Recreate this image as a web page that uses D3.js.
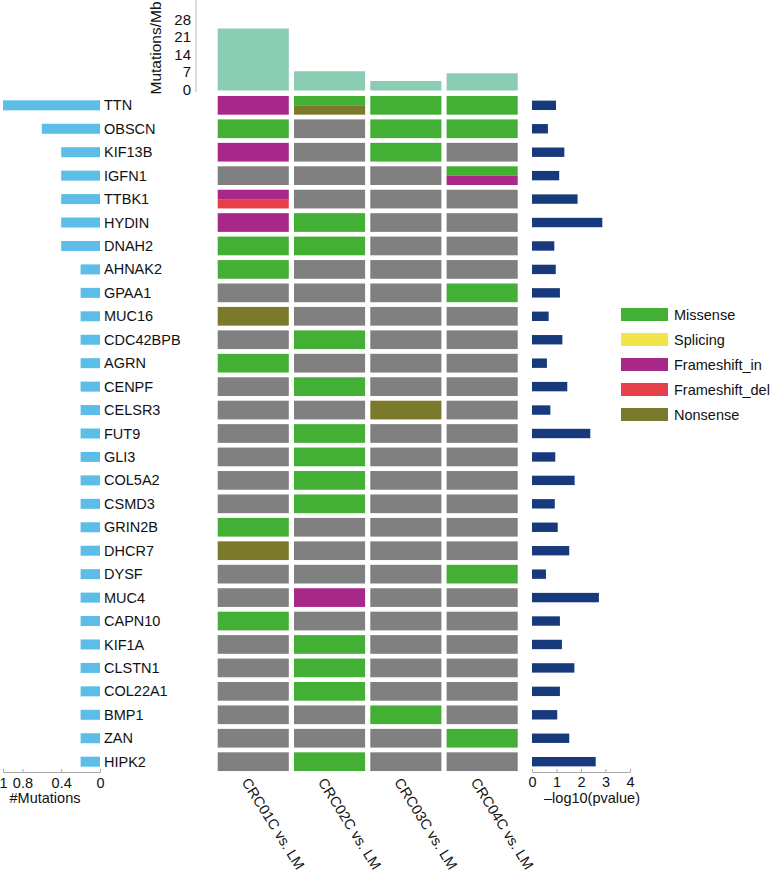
<!DOCTYPE html>
<html><head><meta charset="utf-8">
<script src="https://cdn.jsdelivr.net/npm/d3@7"></script>
<style>
body{margin:0;background:#fff;}
svg{display:block;font-family:"Liberation Sans",Arial,Helvetica,sans-serif;}
</style></head>
<body><svg id="chart" width="774" height="877"></svg>
<script>
const genes = ["TTN","OBSCN","KIF13B","IGFN1","TTBK1","HYDIN","DNAH2","AHNAK2","GPAA1","MUC16","CDC42BPB","AGRN","CENPF","CELSR3","FUT9","GLI3","COL5A2","CSMD3","GRIN2B","DHCR7","DYSF","MUC4","CAPN10","KIF1A","CLSTN1","COL22A1","BMP1","ZAN","HIPK2"];
const samples = ["CRC01C vs. LM","CRC02C vs. LM","CRC03C vs. LM","CRC04C vs. LM"];
const tmb = [24.8, 7.7, 3.8, 6.9];
const tmbTicks = [0, 7, 14, 21, 28];
const mutFreq = [1.0,0.6,0.4,0.4,0.4,0.4,0.4,0.2,0.2,0.2,0.2,0.2,0.2,0.2,0.2,0.2,0.2,0.2,0.2,0.2,0.2,0.2,0.2,0.2,0.2,0.2,0.2,0.2,0.2];
const freqTicks = [1, 0.8, 0.4, 0];
const negLogP = [0.98,0.65,1.32,1.11,1.86,2.87,0.91,0.97,1.14,0.68,1.24,0.61,1.44,0.75,2.38,0.95,1.74,0.93,1.05,1.52,0.57,2.73,1.14,1.22,1.73,1.14,1.03,1.52,2.6];
const pTicks = [0,1,2,3,4];
// mutation calls per sample ("" = none, "+" joins two types)
const crc01 = ["Frameshift_in","Missense","Frameshift_in","","Frameshift_in+Frameshift_del","Frameshift_in","Missense","Missense","","Nonsense","","Missense","","","","","","","Missense","Nonsense","","","Missense","","","","","",""];
const crc02 = ["Missense+Nonsense","","","","","Missense","Missense","","","","Missense","","Missense","","Missense","Missense","Missense","Missense","","","","Frameshift_in","","Missense","Missense","Missense","","","Missense"];
const crc03 = ["Missense","Missense","Missense","","","","","","","","","","","Nonsense","","","","","","","","","","","","","Missense","",""];
const crc04 = ["Missense","Missense","","Missense+Frameshift_in","","","","","Missense","","","","","","","","","","","","Missense","","","","","","","Missense",""];
const mutTypes = ["Missense","Splicing","Frameshift_in","Frameshift_del","Nonsense"];
const mutColors = ["#43b035","#f0e64c","#a8288a","#e5404a","#7b7a2c"];

const calls = [crc01, crc02, crc03, crc04];
const color = d3.scaleOrdinal().domain(mutTypes).range(mutColors);
const svg = d3.select("#chart");
const font = "14.5px";

const x = d3.scaleBand().domain(samples).range([215.1, 520.3]).paddingInner(0.068).paddingOuter(0.034);
const y = d3.scaleBand().domain(genes).range([93.6, 773.4]).paddingInner(0.202).paddingOuter(0.101);

// Heatmap cells
const cells = [];
samples.forEach((s, si) => genes.forEach((g, gi) => cells.push({s, g, v: calls[si][gi]})));
const cg = svg.append("g");
cells.forEach(c => {
  const parts = c.v === "" ? [] : c.v.split("+");
  if (parts.length === 0) {
    cg.append("rect").attr("x", x(c.s)).attr("y", y(c.g)).attr("width", x.bandwidth()).attr("height", y.bandwidth()).attr("fill", "#808080");
  } else {
    const h = y.bandwidth() / parts.length;
    parts.forEach((p, i) => {
      cg.append("rect").attr("x", x(c.s)).attr("y", y(c.g) + i * h).attr("width", x.bandwidth()).attr("height", h).attr("fill", color(p));
    });
  }
});

// Top TMB bars
const yt = d3.scaleLinear().domain([0, 28]).range([90.5, 20.5]);
svg.append("g").selectAll("rect").data(samples).join("rect")
  .attr("x", d => x(d)).attr("width", x.bandwidth())
  .attr("y", (d, i) => yt(tmb[i])).attr("height", (d, i) => yt(0) - yt(tmb[i]))
  .attr("fill", "#8acdb2");
svg.append("line").attr("x1", 196).attr("x2", 196).attr("y1", 0).attr("y2", 92).attr("stroke", "#bbb").attr("stroke-width", 1);
svg.append("g").selectAll("text").data(tmbTicks).join("text")
  .attr("x", 191).attr("y", d => yt(d) - 1).attr("dy", "0.35em").attr("text-anchor", "end")
  .attr("font-size", "15px").attr("fill", "#111").text(d => d);
svg.append("text").attr("transform", "translate(161,48) rotate(-90)").attr("text-anchor", "middle")
  .attr("font-size", "15.5px").attr("fill", "#111").text("Mutations/Mb");

// Left frequency bars
const xl = d3.scaleLinear().domain([0, 1]).range([100, 3]);
svg.append("g").selectAll("rect").data(genes).join("rect")
  .attr("x", (d, i) => xl(mutFreq[i])).attr("width", (d, i) => xl(0) - xl(mutFreq[i]))
  .attr("y", d => y(d) + y.bandwidth() / 2 - 5).attr("height", 10)
  .attr("fill", "#5cbde6");
svg.append("g").selectAll("text").data(genes).join("text")
  .attr("x", 104).attr("y", d => y(d) + y.bandwidth() / 2).attr("dy", "0.35em")
  .attr("font-size", font).attr("fill", "#111").text(d => d);
const axL = svg.append("g").attr("transform", "translate(0,772)")
  .call(d3.axisTop(xl).tickValues(freqTicks).tickSize(3).tickFormat(d3.format("~g")));
axL.select(".domain").attr("stroke", "#aaa");
axL.selectAll(".tick line").attr("stroke", "#aaa");
axL.selectAll(".tick text").attr("y", 11).attr("dy", "0.35em").attr("font-size", font).attr("fill", "#111").attr("font-family", null);
svg.append("text").attr("x", 45).attr("y", 803).attr("text-anchor", "middle").attr("font-size", font).attr("fill", "#111").text("#Mutations");

// Right p-value bars
const xr = d3.scaleLinear().domain([0, 4]).range([532, 630]);
svg.append("g").selectAll("rect").data(genes).join("rect")
  .attr("x", xr(0)).attr("width", (d, i) => xr(negLogP[i]) - xr(0))
  .attr("y", d => y(d) + y.bandwidth() / 2 - 4.7).attr("height", 9.4)
  .attr("fill", "#163a7c");
const axR = svg.append("g").attr("transform", "translate(0,772)")
  .call(d3.axisTop(xr).tickValues(pTicks).tickSize(3).tickFormat(d3.format("d")));
axR.select(".domain").attr("stroke", "#aaa");
axR.selectAll(".tick line").attr("stroke", "#aaa");
axR.selectAll(".tick text").attr("y", 10).attr("dy", "0.35em").attr("font-size", font).attr("fill", "#111").attr("font-family", null);
svg.append("text").attr("x", 592).attr("y", 803).attr("text-anchor", "middle").attr("font-size", font).attr("fill", "#111").text("–log10(pvalue)");

// Sample labels
svg.append("g").selectAll("text").data(samples).join("text")
  .attr("transform", d => `translate(${x(d) + x.bandwidth() / 2 - 12},782) rotate(58)`)
  .attr("font-size", "14.5px").attr("fill", "#111").text(d => d);

// Legend
const lg = svg.append("g");
mutTypes.forEach((t, i) => {
  lg.append("rect").attr("x", 621).attr("y", 308 + i * 25).attr("width", 47).attr("height", 13).attr("fill", color(t));
  lg.append("text").attr("x", 674).attr("y", 314.5 + i * 25).attr("dy", "0.35em").attr("font-size", font).attr("fill", "#111").text(t);
});
</script></body></html>
